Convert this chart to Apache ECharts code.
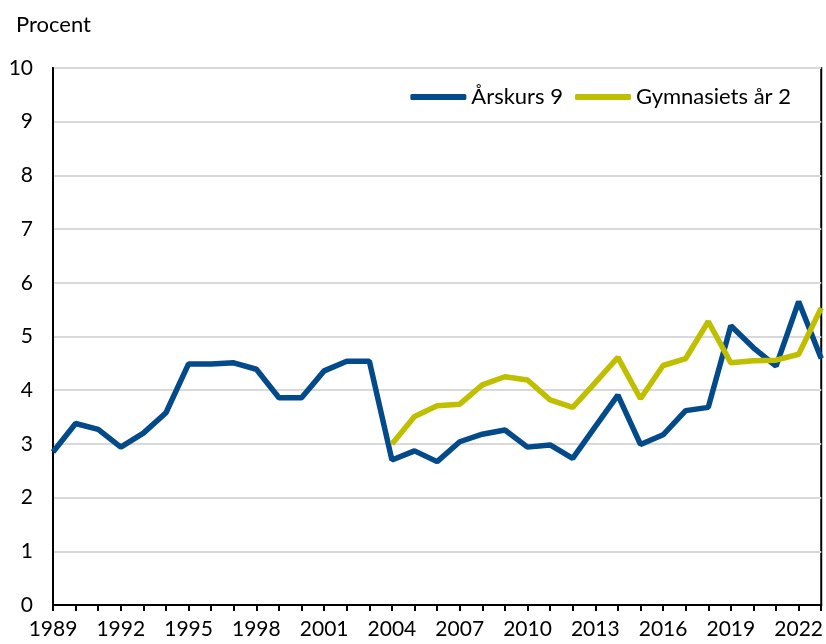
<!DOCTYPE html>
<html>
<head>
<meta charset="utf-8">
<script src="https://cdn.jsdelivr.net/npm/echarts@6.0.0/dist/echarts.min.js"></script>
<style>
  html, body { margin: 0; padding: 0; background: #fff; }
  #chart { width: 826px; height: 644px; }
</style>
</head>
<body>
<div id="chart"></div>
<script>
  const years = [];
  for (let y = 1989; y <= 2023; y++) years.push(String(y));

  const arskurs9 = [
    2.85, 3.38, 3.27, 2.94, 3.20, 3.58, 4.49, 4.49, 4.51, 4.39,
    3.86, 3.86, 4.36, 4.54, 4.54, 2.70, 2.87, 2.67, 3.04, 3.18,
    3.26, 2.94, 2.98, 2.73, 3.32, 3.91, 2.99, 3.17, 3.62, 3.68,
    5.20, 4.79, 4.45, 5.65, 4.59
  ];

  const gymnasiet2 = [
    null, null, null, null, null, null, null, null, null, null,
    null, null, null, null, null, 3.00, 3.51, 3.71, 3.74, 4.10,
    4.25, 4.19, 3.82, 3.68, 4.14, 4.61, 3.84, 4.46, 4.59, 5.28,
    4.51, 4.55, 4.56, 4.67, 5.53
  ];

  const BLUE = '#034a8b';
  const YELLOW = '#bfbf00';
  const FONT = 'Lato, "DejaVu Sans", sans-serif';

  const chart = echarts.init(document.getElementById('chart'));

  chart.setOption({
    animation: false,
    textStyle: { fontFamily: FONT },
    title: {
      text: 'Procent',
      left: 11,
      top: 9,
      textStyle: { fontFamily: FONT, fontSize: 22, fontWeight: 'normal', color: '#000' }
    },
    legend: {
      right: 30,
      top: 81,
      icon: 'roundRect',
      itemWidth: 56,
      itemHeight: 6,
      itemGap: 12,
      textStyle: { fontFamily: FONT, fontSize: 22, color: '#000' },
      data: ['Årskurs 9', 'Gymnasiets år 2']
    },
    grid: {
      left: 53,
      right: 3,
      top: 68,
      bottom: 39,
      show: true,
      borderColor: '#000',
      borderWidth: 2,
      containLabel: false
    },
    xAxis: {
      type: 'category',
      boundaryGap: false,
      data: years,
      axisLine: { lineStyle: { color: '#000', width: 2 } },
      axisTick: { show: true, interval: 0, length: 6, lineStyle: { color: '#000', width: 2 } },
      axisLabel: { interval: 2, color: '#000', fontSize: 21, margin: 14, fontFamily: FONT },
      splitLine: { show: false }
    },
    yAxis: {
      type: 'value',
      min: 0,
      max: 10,
      interval: 1,
      axisLine: { show: true, lineStyle: { color: '#000', width: 2 } },
      axisTick: { show: false },
      axisLabel: { color: '#000', fontSize: 21, margin: 20, fontFamily: FONT },
      splitLine: { lineStyle: { color: '#d9d9d9', width: 2 } }
    },
    series: [
      {
        name: 'Årskurs 9',
        type: 'line',
        data: arskurs9,
        symbol: 'none',
        itemStyle: { color: BLUE },
        lineStyle: { color: BLUE, width: 5.5 }
      },
      {
        name: 'Gymnasiets år 2',
        type: 'line',
        data: gymnasiet2,
        symbol: 'none',
        itemStyle: { color: YELLOW },
        lineStyle: { color: YELLOW, width: 5.5 }
      }
    ]
  });
</script>
</body>
</html>
